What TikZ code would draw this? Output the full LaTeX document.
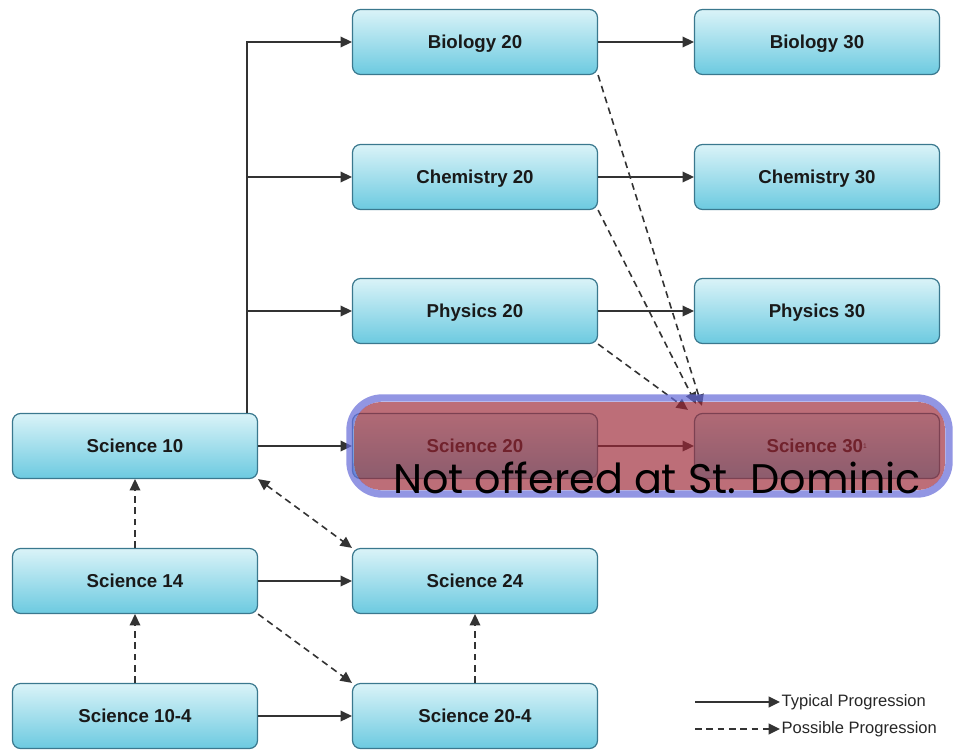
\documentclass[tikz,border=0pt]{standalone}
\usepackage{fontspec}
\setmainfont{Liberation Sans}
\newfontfamily\popfont{Poppins}
\usepackage{tikz}
\usetikzlibrary{
	arrows.meta,									% 箭头样式
	calc,											% 坐标计算
}

\definecolor{nodetop}{RGB}{218,243,248}
\definecolor{nodebottom}{RGB}{108,202,224}
\definecolor{nodeborder}{RGB}{58,120,142}
\definecolor{notred}{RGB}{157,39,54}
\definecolor{notblue}{RGB}{100,105,215}

\tikzset{
	course/.style={rectangle, rounded corners=6pt, draw=nodeborder, line width=0.9pt,
		top color=nodetop, bottom color=nodebottom, minimum width=183.75pt,
		minimum height=48.75pt, text height=10pt, text depth=0pt,
		font=\bfseries\fontsize{14}{16}\selectfont, text=black!90},
	tip/.tip={Triangle[length=8.5pt,width=8pt]},
	typical/.style={draw=black!80, line width=1.2pt, -tip},
	possible/.style={typical, dash pattern=on 5pt off 3.5pt},
	legendtext/.style={font=\fontsize{12.4}{14}\selectfont, text=black!85, inner sep=1pt, anchor=west},
}

\begin{document}
\begin{tikzpicture}[x=0.75pt, y=-0.75pt]
		\useasboundingbox (0,0) rectangle (956,753);
		% 课程
		\node[course] (bio20)  at (475,42)  {Biology 20};
		\node[course] (bio30)  at (817,42)  {Biology 30};
		\node[course] (chem20) at (475,177) {Chemistry 20};
		\node[course] (chem30) at (817,177) {Chemistry 30};
		\node[course] (phys20) at (475,311) {Physics 20};
		\node[course] (phys30) at (817,311) {Physics 30};
		\node[course] (sci10)  at (135,446) {Science 10};
		\node[course] (sci20)  at (475,446) {Science 20};
		\node[course] (sci30)  at (817,446) {Science 30{\mdseries\fontsize{7}{7}\selectfont\textsuperscript{1}}};
		\node[course] (sci14)  at (135,581) {Science 14};
		\node[course] (sci24)  at (475,581) {Science 24};
		\node[course] (sci104) at (135,716) {Science 10-4};
		\node[course] (sci204) at (475,716) {Science 20-4};

		% 从 Science 10 分出的主干
		\coordinate (trunk) at ($(sci10.north east)+(-11,0)$);
		\draw[typical] (trunk) |- (bio20);
		\draw[typical] (trunk) |- (chem20);
		\draw[typical] (trunk) |- (phys20);
		\draw[typical] (sci10) -- (sci20);

		\draw[typical] (bio20) -- (bio30);
		\draw[typical] (chem20) -- (chem30);
		\draw[typical] (phys20) -- (phys30);
		\draw[typical] (sci20) -- (sci30);
		\draw[typical] (sci14) -- (sci24);
		\draw[typical] (sci104) -- (sci204);

		% 可能的路线
		\coordinate (endbio)  at ($(sci30.north west)+(8,-7)$);
		\coordinate (endchem) at ($(sci30.north west)+(2,-9)$);
		\coordinate (endphys) at ($(sci30.north west)+(-6,-3)$);
		\draw[possible] (bio20.south east) -- (endbio);
		\draw[possible] (chem20.south east) -- (endchem);
		\draw[possible] (phys20.south east) -- (endphys);
		\draw[possible] (sci14) -- (sci10);
		\draw[possible] (sci104) -- (sci14);
		\draw[possible, tip-tip] (sci10.south east) -- (sci24.north west);
		\draw[possible] (sci14.south east) -- (sci204.north west);
		\draw[possible] (sci204) -- (sci24);

		% 图例
		\coordinate (legtyp) at (695,702);
		\coordinate (legpos) at (695,729);
		\node[legendtext] (typtext) at (780,702) {Typical Progression};
		\node[legendtext] (postext) at (780,729) {Possible Progression};
		\draw[typical] (legtyp) -- (typtext.west);
		\draw[possible] (legpos) -- (postext.west);

		% 不开设的课程
		\fill[notred, fill opacity=0.67, rounded corners=20pt] (354,402) rectangle (945,490);
		\draw[notblue, draw opacity=0.7, line width=5.5pt, rounded corners=24pt] (350,398) rectangle (949,494);
		\node[font=\popfont\fontsize{31}{33}\selectfont, anchor=base, inner sep=0pt] (notoffered) at (657,493) {Not offered at St. Dominic};
	\end{tikzpicture}
\end{document}
